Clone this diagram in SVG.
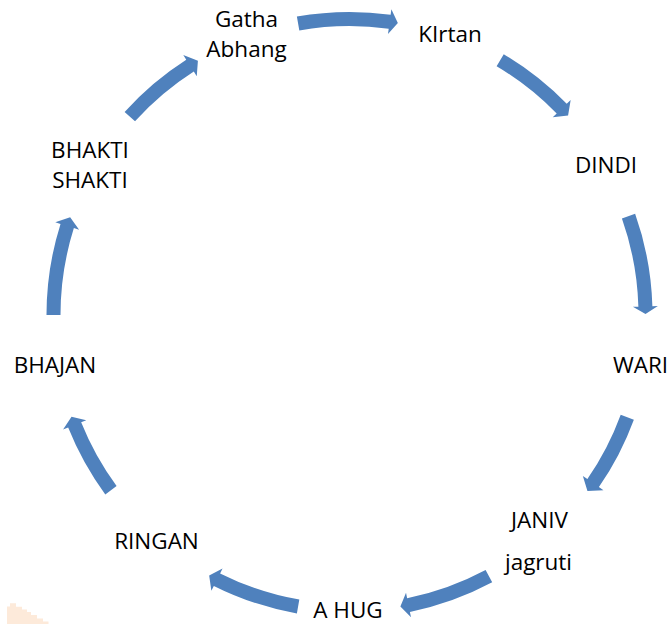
<svg xmlns="http://www.w3.org/2000/svg" width="671" height="624" viewBox="0 0 671 624">
<style>
.lbl{font-family:"Open Sans","Liberation Sans",sans-serif;font-size:22.5px;fill:#000;text-anchor:middle}
.arr{fill:#4F81BD;stroke:none}
</style>
<rect x="0" y="0" width="671" height="624" fill="#FFFFFF"/>
<path d="M7,624 V606.5 H10 V603.3 H16 V606.7 H22 V609.5 H27 V612 H31 V615 H37 V618.5 H43 V621.5 H48.5 V624 Z" fill="#FDEADA"/>
<g id="connectors">
<path class="arr" d="M296.88,16.60 A303,303 0 0 1 390.62,14.80 L391.37,9.35 L397.85,22.98 L387.98,34.12 L388.72,28.67 A289,289 0 0 0 299.32,30.39 Z"/>
<path class="arr" d="M503.74,54.20 A303,303 0 0 1 566.72,103.76 L570.67,99.92 L568.08,115.41 L552.74,117.35 L556.69,113.52 A289,289 0 0 0 496.61,66.25 Z"/>
<path class="arr" d="M635.12,213.86 A303,303 0 0 1 652.38,306.28 L657.87,306.12 L645.5,313.97 L632.88,306.84 L638.38,306.68 A289,289 0 0 0 621.92,218.53 Z"/>
<path class="arr" d="M633.86,419.63 A303,303 0 0 1 598.91,487.06 L603.44,490.18 L587.44,491.07 L582.86,475.98 L587.39,479.11 A289,289 0 0 0 620.72,414.79 Z"/>
<path class="arr" d="M492.20,582.29 A303,303 0 0 1 409.91,611.92 L411.01,617.31 L400.39,606.59 L406.02,592.81 L407.12,598.20 A289,289 0 0 0 485.60,569.94 Z"/>
<path class="arr" d="M296.88,613.40 A303,303 0 0 1 213.83,585.93 L211.37,590.84 L209.17,575.62 L222.56,568.49 L220.10,573.41 A289,289 0 0 0 299.32,599.61 Z"/>
<path class="arr" d="M105.30,494.38 A303,303 0 0 1 68.17,427.53 L63.06,429.57 L71.52,416.72 L86.27,420.28 L81.17,422.33 A289,289 0 0 0 116.59,486.09 Z"/>
<path class="arr" d="M46.5,315 A303,303 0 0 1 60.52,223.88 L55.28,222.23 L70.14,217.16 L79.12,229.75 L73.87,228.09 A289,289 0 0 0 60.5,315 Z"/>
<path class="arr" d="M124.62,111.93 A303,303 0 0 1 186.25,59.74 L183.29,55.10 L197.91,60.77 L196.76,76.17 L193.80,71.53 A289,289 0 0 0 135.01,121.31 Z"/>
</g>
<g id="node-gatha"><text class="lbl" x="246.5" y="26.5">Gatha</text><text class="lbl" x="246.5" y="56.5">Abhang</text></g>
<g id="node-kirtan"><text class="lbl" x="450" y="42">KIrtan</text></g>
<g id="node-dindi"><text class="lbl" x="606" y="173">DINDI</text></g>
<g id="node-wari"><text class="lbl" x="640.5" y="373">WARI</text></g>
<g id="node-janiv"><text class="lbl" x="539.5" y="528">JANIV</text><text class="lbl" x="538.5" y="570">jagruti</text></g>
<g id="node-ahug"><text class="lbl" x="348" y="618">A HUG</text></g>
<g id="node-ringan"><text class="lbl" x="156.5" y="549">RINGAN</text></g>
<g id="node-bhajan"><text class="lbl" x="55" y="373">BHAJAN</text></g>
<g id="node-bhakti"><text class="lbl" x="90" y="158">BHAKTI</text><text class="lbl" x="90" y="188">SHAKTI</text></g>
</svg>
